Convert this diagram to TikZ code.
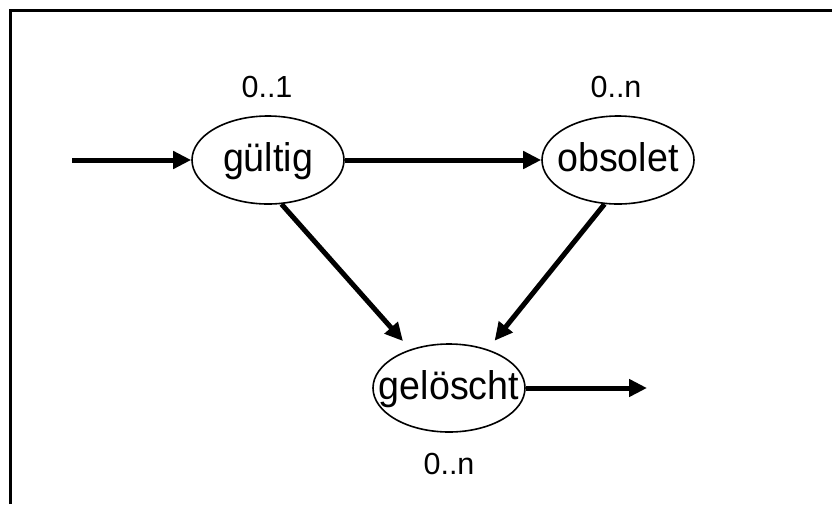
\documentclass[tikz,border=0pt]{standalone}
\usepackage{fontspec}
\setmainfont{Liberation Sans}
\newfontfamily\statefont[FakeStretch=0.94]{Liberation Sans}
\usetikzlibrary{arrows.meta,shapes.geometric}
\tikzset{
  stateshape/.style={ellipse,draw=black,line width=1.6pt,minimum width=152pt,minimum height=88pt,inner sep=0pt},
  statetext/.style={font=\statefont\fontsize{40}{44}\selectfont,inner sep=0pt,text height=30pt,text depth=7pt},
  mult/.style={font=\fontsize{30.5}{34}\selectfont,inner sep=0pt},
  arr/.style={line width=5pt,-{Triangle[length=18pt,width=17pt]}},
  frameline/.style={line width=2.6pt,black}
}
\begin{document}
\begin{tikzpicture}[x=1pt,y=-1pt]
\useasboundingbox (0,0) rectangle (832,504);
\draw[frameline] (10.5,504) -- (10.5,10.5) -- (832,10.5);
\node[stateshape,label={[statetext]center:gültig}] (gueltig) at (268,160) {};
\node[stateshape,label={[statetext]center:obsolet}] (obsolet) at (618,160) {};
\node[stateshape,label={[statetext]center:gelöscht}] (geloescht) at (449,388) {};
\node[mult] (m1) at (267,86.5) {0..1};
\node[mult] (m2) at (616,86.5) {0..n};
\node[mult] (m3) at (449,464) {0..n};
\coordinate (in) at (72,160);
\coordinate (out) at (647,388);
\draw[arr] (in) -- (gueltig.west);
\draw[arr] (gueltig.east) -- (obsolet.west);
\draw[arr,shorten >=11pt] (gueltig.-73) -- (geloescht.135);
\draw[arr,shorten >=11pt] (obsolet.-107) -- (geloescht.45);
\draw[arr] (geloescht.east) -- (out);
\end{tikzpicture}
\end{document}
